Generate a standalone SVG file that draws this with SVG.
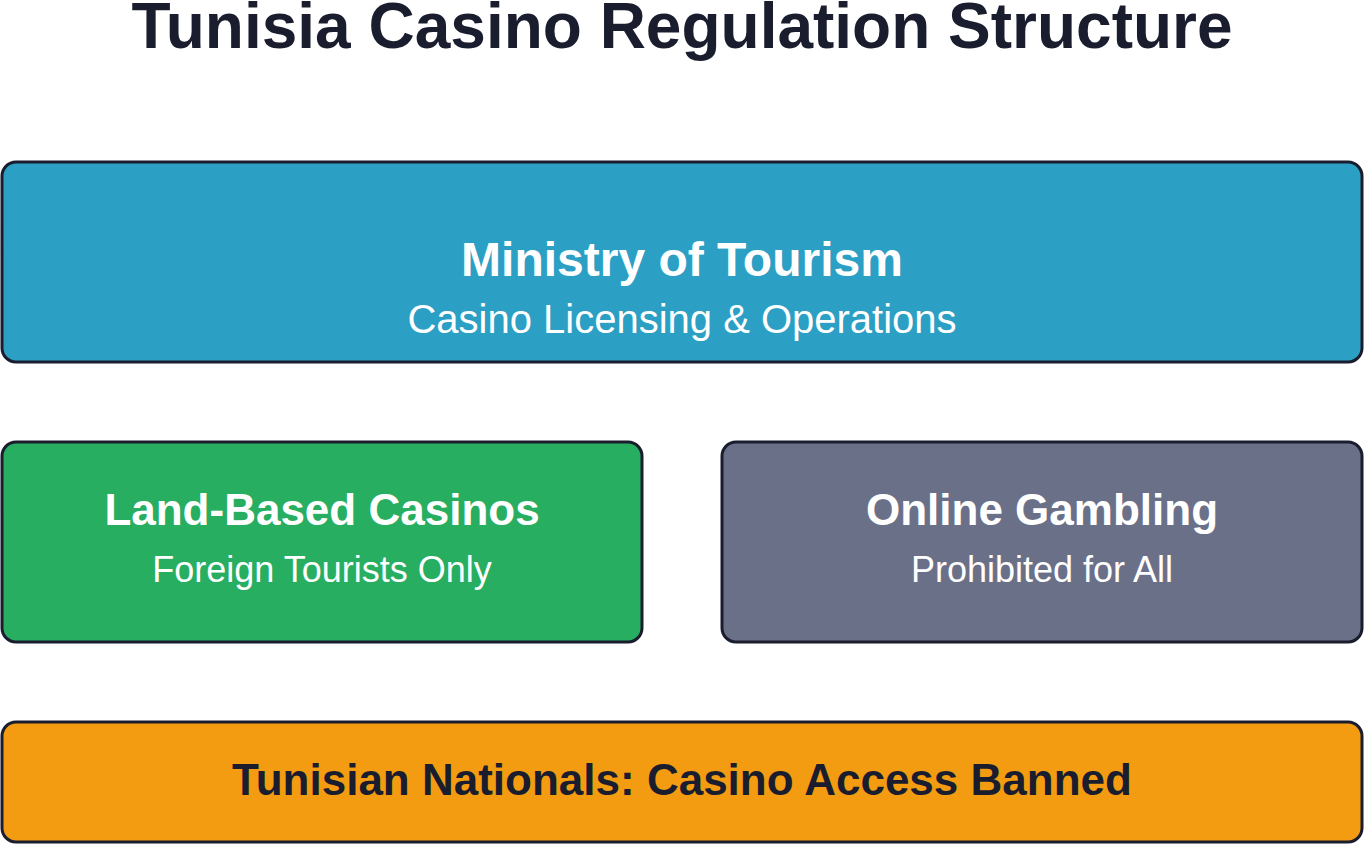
<svg xmlns="http://www.w3.org/2000/svg" width="1364" height="844" viewBox="0 0 1364 844">
<style>
.box{stroke:#1a1d2e;stroke-width:3}
text{font-family:"Liberation Sans",Arial,sans-serif;text-anchor:middle}
.h{font-weight:bold;fill:#fff}
.s{fill:#fff}
</style>
<rect width="1364" height="844" fill="#fff"/>
<text x="682" y="48" font-size="64" font-weight="bold" fill="#1a1d2e">Tunisia Casino Regulation Structure</text>
<g id="ministry">
<rect class="box" x="2" y="162" width="1360" height="200" rx="14" fill="#2c9fc4"/>
<text class="h" x="682" y="276" font-size="48">Ministry of Tourism</text>
<text class="s" x="682" y="333" font-size="40">Casino Licensing &amp; Operations</text>
</g>
<g id="land">
<rect class="box" x="2" y="442" width="640" height="200" rx="14" fill="#27ae60"/>
<text class="h" x="322" y="525" font-size="44">Land-Based Casinos</text>
<text class="s" x="322" y="582" font-size="36">Foreign Tourists Only</text>
</g>
<g id="online">
<rect class="box" x="722" y="442" width="640" height="200" rx="14" fill="#6b7089"/>
<text class="h" x="1042" y="525" font-size="44">Online Gambling</text>
<text class="s" x="1042" y="582" font-size="36">Prohibited for All</text>
</g>
<g id="nationals">
<rect class="box" x="2" y="722" width="1360" height="120" rx="14" fill="#f39c12"/>
<text x="682" y="795" font-size="44" font-weight="bold" fill="#1a1d2e">Tunisian Nationals: Casino Access Banned</text>
</g>
<g id="connectors"></g>
</svg>
